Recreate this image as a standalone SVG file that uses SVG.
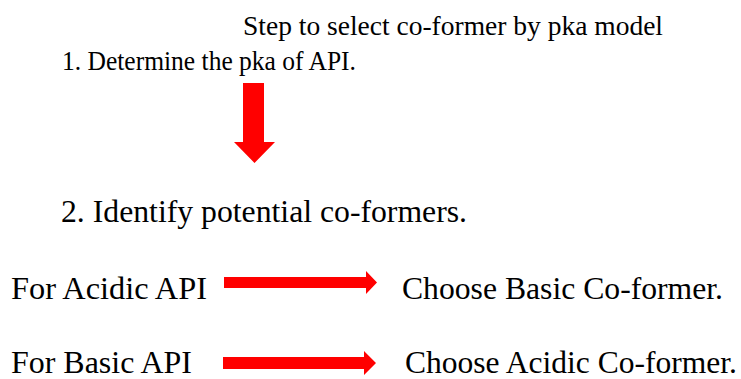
<svg xmlns="http://www.w3.org/2000/svg" width="741" height="379" viewBox="0 0 741 379">
<style>
text{font-family:'Liberation Serif','Times New Roman',serif;fill:#000}
.s{font-size:28px}
.l{font-size:32px}
.a{fill:#ff0000;stroke:none}
</style>
<rect width="741" height="379" fill="#fff"/>
<g id="title"><text class="s" x="243" y="35" textLength="420" lengthAdjust="spacingAndGlyphs">Step to select co-former by pka model</text></g>
<g id="step1"><text class="s" x="62" y="70" textLength="294" lengthAdjust="spacingAndGlyphs">1. Determine the pka of API.</text></g>
<g id="step2"><text class="l" x="61" y="222" textLength="406" lengthAdjust="spacingAndGlyphs">2. Identify potential co-formers.</text></g>
<g id="acidic-api"><text class="l" x="11" y="299" textLength="196" lengthAdjust="spacingAndGlyphs">For Acidic API</text></g>
<g id="basic-coformer"><text class="l" x="402" y="299" textLength="321" lengthAdjust="spacingAndGlyphs">Choose Basic Co-former.</text></g>
<g id="basic-api"><text class="l" x="11" y="373" textLength="181" lengthAdjust="spacingAndGlyphs">For Basic API</text></g>
<g id="acidic-coformer"><text class="l" x="405" y="373" textLength="332" lengthAdjust="spacingAndGlyphs">Choose Acidic Co-former.</text></g>
<g id="connectors">
<polygon class="a" points="243,83 264,83 264,142 275,142 254.5,163 234,142 243,142"/>
<polygon class="a" points="224,277 366,277 366,271 377,282.5 366,294 366,288 224,288"/>
<polygon class="a" points="223,357 364,357 364,351 376,363 364,375 364,369 223,369"/>
</g>
</svg>
